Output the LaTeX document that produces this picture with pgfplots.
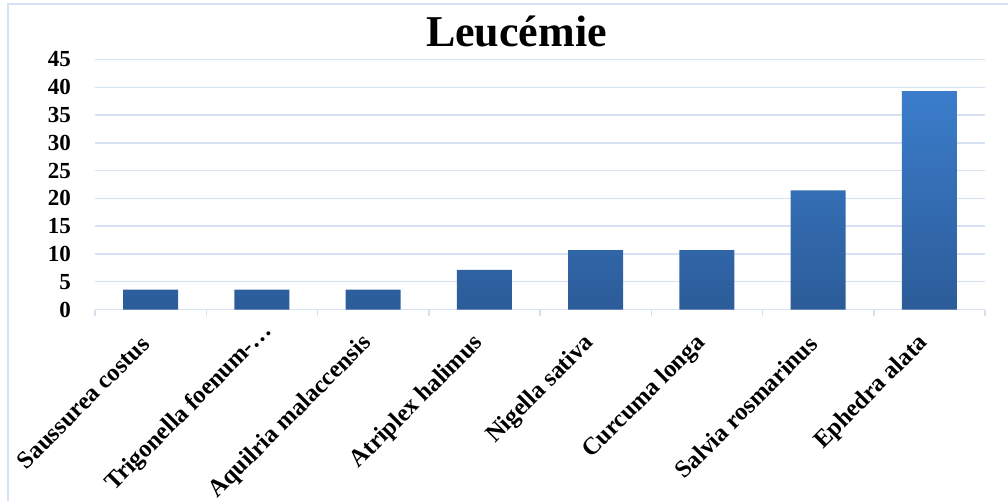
\documentclass[border=0pt]{standalone}
\usepackage{pgfplots}
\pgfplotsset{compat=1.18}
\usepackage{fontspec}
\setmainfont{Liberation Serif}

\definecolor{gridblue}{HTML}{D6E2F2}
\definecolor{bartop}{HTML}{3B7DCB}
\definecolor{barbot}{HTML}{2C5C99}

\begin{document}
\begin{tikzpicture}[x=1pt,y=1pt]
  \useasboundingbox (0,0) rectangle (1008,501);
  % chart frame (left and top edges)
  \draw[gridblue, line width=2pt] (8,0) -- (8,497) -- (1008,497);
  % title
  \node[font=\fontsize{44}{44}\selectfont\bfseries, anchor=base] at (516.5,454) {Leucémie};
  \begin{axis}[
    at={(95pt,191.5pt)}, anchor=south west,
    scale only axis,
    width=890pt, height=250pt,
    xmin=-0.5, xmax=7.5,
    ymin=0, ymax=45,
    ytick={0,5,...,45},
    xtick={0,...,7},
    xticklabels={Saussurea costus, {Trigonella foenum-…\hspace*{-17pt}}, Aquilria malaccensis,
      Atriplex halimus, Nigella sativa, Curcuma longa, Salvia rosmarinus, Ephedra alata},
    axis x line*=bottom,
    axis y line*=left,
    y axis line style={draw=none},
    x axis line style={gridblue, line width=1.5pt},
    ytick style={draw=none},
    xtick style={draw=none},
    extra x ticks={-0.5,0.5,...,7.5},
    extra x tick labels={},
    extra x tick style={
      xtick style={draw=gridblue, line width=1.5pt},
      major tick length=6pt, tick align=outside, grid=none},
    ymajorgrids,
    grid style={gridblue, line width=1.5pt},
    /pgf/number format/assume math mode=true,
    yticklabel style={font=\fontsize{23}{23}\selectfont\bfseries, inner sep=0pt, xshift=-24pt},
    xticklabel style={font=\fontsize{24.5}{24.5}\selectfont\bfseries, rotate=45, anchor=east,
      inner sep=0pt, xshift=-25pt, yshift=-18pt},
    clip=false,
  ]
    \addplot[ybar, bar width=55pt, draw=none, top color=bartop, bottom color=barbot]
      coordinates {(0,3.57) (1,3.57) (2,3.57) (3,7.14) (4,10.71) (5,10.71) (6,21.43) (7,39.29)};
  \end{axis}
\end{tikzpicture}
\end{document}
